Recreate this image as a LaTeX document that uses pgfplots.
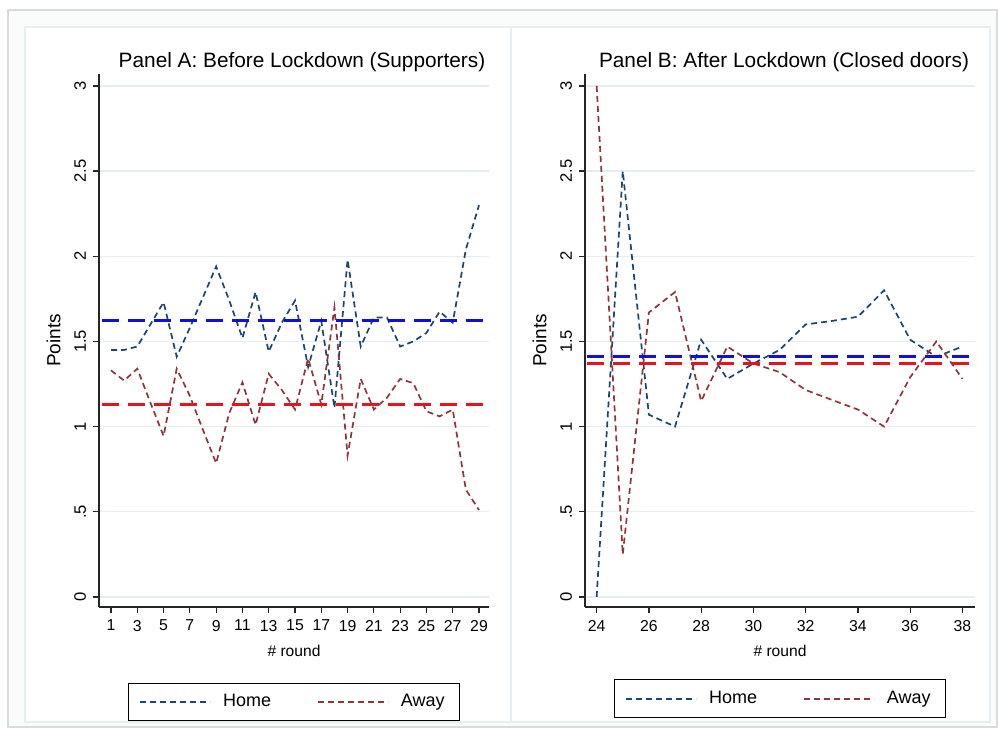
\documentclass[border=0pt]{standalone}
\usepackage{fontspec}
\setmainfont{Liberation Sans}
\usepackage{pgfplots}
\pgfplotsset{compat=1.18}
\definecolor{homec}{HTML}{1A476F}
\definecolor{awayc}{HTML}{90353B}
\definecolor{meanb}{HTML}{1010D8}
\definecolor{meanr}{HTML}{E8141C}
\definecolor{gridc}{HTML}{E4EDEF}
\definecolor{framec}{HTML}{D6DBDC}
\definecolor{panelc}{HTML}{E8EEEF}
\definecolor{regionc}{HTML}{FAFBFB}

\pgfplotsset{
  stata/.style={
    scale only axis,
    width=195pt, height=266.5pt,
    axis x line*=bottom, axis y line*=left,
    axis line style={black!85, line width=0.6pt},
    tick align=outside,
    major tick length=3pt,
    tick style={black!85, line width=0.6pt},
    ymin=-0.059, ymax=3.07,
    ytick={0,0.5,1,1.5,2,2.5,3},
    yticklabels={0,.5,1,1.5,2,2.5,3},
    ymajorgrids,
    grid style={gridc, line width=0.6pt},
    tick label style={font=\fontsize{7.9}{9}\selectfont},
    yticklabel style={rotate=90, anchor=south, font=\fontsize{8.3}{9}\selectfont},
    /pgf/number format/assume math mode=true,
    xlabel={\# round}, ylabel={Points},
    xlabel style={font=\fontsize{7.8}{9}\selectfont},
    ylabel style={font=\fontsize{9.5}{11}\selectfont},
    legend columns=2,
    legend cell align=left,
    legend style={draw=black, line width=0.5pt, font=\fontsize{9}{10}\selectfont,
      anchor=north, inner xsep=5.5pt, inner ysep=3.5pt,
      /tikz/every odd column/.append style={column sep=4pt},
      /tikz/every even column/.append style={column sep=21pt}},
    legend image code/.code={\draw[##1] (0pt,0pt) -- (35pt,0pt);},
  },
  homeline/.style={homec, line width=0.85pt, dash pattern=on 3pt off 2pt},
  awayline/.style={awayc, line width=0.85pt, dash pattern=on 3pt off 2pt},
  meanbline/.style={meanb, line width=1.5pt, dash pattern=on 8.5pt off 4.5pt},
  meanrline/.style={meanr, line width=1.4pt, dash pattern=on 8.5pt off 4.5pt},
}

\begin{document}
\begin{tikzpicture}
\path[use as bounding box, fill=white] (0pt,0pt) rectangle (499.5pt,366.5pt);
% outer frame and panel regions
\draw[framec, line width=0.6pt, fill=regionc] (4pt,3pt) rectangle (498.5pt,361.5pt);
\draw[panelc, line width=0.6pt, fill=white] (12.5pt,5.5pt) rectangle (255.5pt,353pt);
\draw[panelc, line width=0.6pt, fill=white] (255.5pt,5.5pt) rectangle (495pt,353pt);

% Panel A
\begin{axis}[stata, at={(49.5pt,63pt)}, anchor=south west,
  xmin=0.087, xmax=29.76,
  xtick={1,3,...,29},
  legend style={at={(0.5,-0.142)}}]
\addplot[homeline] coordinates {
(1,1.45) (2,1.45) (3,1.47) (4,1.60) (5,1.73) (6,1.41) (7,1.58) (8,1.76) (9,1.94) (10,1.74)
(11,1.52) (12,1.79) (13,1.44) (14,1.61) (15,1.74) (16,1.35) (17,1.62) (18,1.11) (19,1.98) (20,1.47)
(21,1.64) (22,1.64) (23,1.47) (24,1.50) (25,1.55) (26,1.675) (27,1.61) (28,2.04) (29,2.30)};
\addlegendentry{Home}
\addplot[awayline] coordinates {
(1,1.33) (2,1.27) (3,1.34) (4,1.14) (5,0.945) (6,1.34) (7,1.18) (8,0.98) (9,0.785) (10,1.08)
(11,1.26) (12,1.01) (13,1.31) (14,1.215) (15,1.10) (16,1.40) (17,1.13) (18,1.70) (19,0.83) (20,1.28)
(21,1.10) (22,1.17) (23,1.28) (24,1.255) (25,1.09) (26,1.06) (27,1.10) (28,0.63) (29,0.51)};
\addlegendentry{Away}
\addplot[meanbline, forget plot] coordinates {(0.3,1.62) (29.76,1.62)};
\addplot[meanrline, forget plot] coordinates {(0.3,1.13) (29.76,1.13)};
\end{axis}

% Panel B
\begin{axis}[stata, at={(292.5pt,63pt)}, anchor=south west,
  xmin=23.555, xmax=38.48,
  xtick={24,26,...,38},
  legend style={at={(0.5,-0.136)}}]
\addplot[homeline] coordinates {
(24,0) (25,2.50) (26,1.07) (27,1.00) (28,1.51) (29,1.28) (30,1.37) (31,1.45)
(32,1.60) (33,1.62) (34,1.645) (35,1.80) (36,1.51) (37,1.41) (38,1.47)};
\addlegendentry{Home}
\addplot[awayline] coordinates {
(24,3.0) (25,0.25) (26,1.67) (27,1.79) (28,1.15) (29,1.47) (30,1.37) (31,1.32)
(32,1.215) (33,1.157) (34,1.10) (35,1.00) (36,1.29) (37,1.50) (38,1.28)};
\addlegendentry{Away}
\addplot[meanbline, forget plot] coordinates {(23.65,1.41) (38.30,1.41)};
\addplot[meanrline, forget plot] coordinates {(23.65,1.37) (38.30,1.37)};
\end{axis}

% titles
\node[anchor=base, font=\fontsize{10.4}{12}\selectfont] at (151pt,332.75pt) {Panel A: Before Lockdown (Supporters)};
\node[anchor=base, font=\fontsize{10.4}{12}\selectfont] at (392pt,332.75pt) {Panel B: After Lockdown (Closed doors)};
\end{tikzpicture}
\end{document}
